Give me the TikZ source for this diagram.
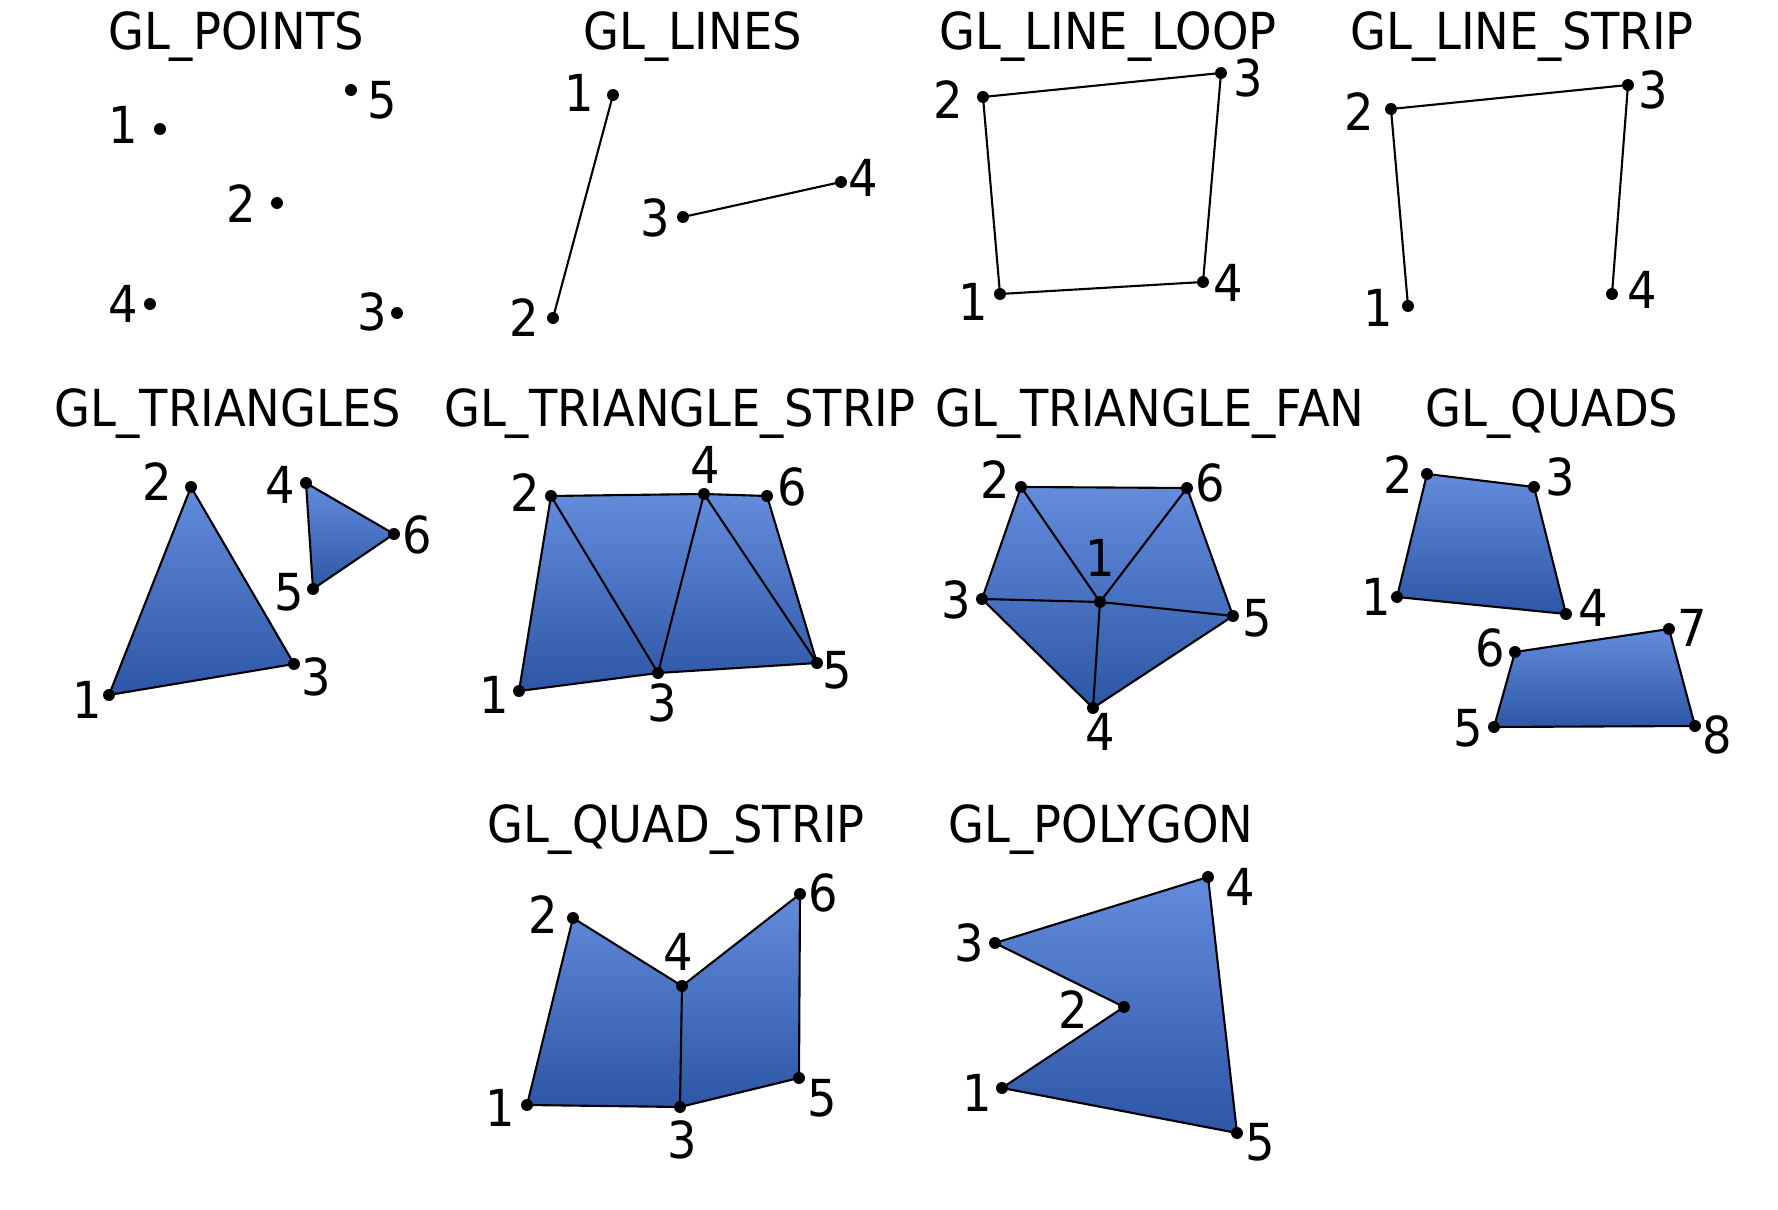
\documentclass[tikz,border=0pt]{standalone}
\usepackage{fontspec}
\setmainfont{DejaVu Sans}[FakeStretch=0.91]
\usepackage{tikz}

\definecolor{facetop}{RGB}{100,140,220}
\definecolor{facemid}{RGB}{52,110,214}
\definecolor{facebot}{RGB}{46,86,166}

\begin{document}
\begin{tikzpicture}[x=0.01cm,y=-0.01cm,
		font=\fontsize{14.5pt}{17pt}\selectfont,
		title/.style={anchor=base,inner sep=0pt},
		lbl/.style={inner sep=0pt},
		edge/.style={line width=0.6pt,line join=round},
		face/.style={edge,top color=facetop,middle color=facemid,bottom color=facebot}]
	\useasboundingbox (0,0) rectangle (1778,1210);
	% GL_POINTS
	\node[title] (tpoints) at (236,50) {GL\_POINTS};
	\coordinate (pt1) at (160,129);
	\coordinate (pt2) at (277,203);
	\coordinate (pt3) at (397,313);
	\coordinate (pt4) at (150,304);
	\coordinate (pt5) at (351,90);
	\node[lbl] (pt1l) at (123,125) {1};
	\node[lbl] (pt2l) at (241,204) {2};
	\node[lbl] (pt3l) at (372,312) {3};
	\node[lbl] (pt4l) at (123,304) {4};
	\node[lbl] (pt5l) at (382,100) {5};
	% GL_LINES
	\node[title] (tlines) at (693,50) {GL\_LINES};
	\coordinate (ln1) at (613,95);
	\coordinate (ln2) at (553,318);
	\coordinate (ln3) at (683,217);
	\coordinate (ln4) at (841,182);
	\draw[edge] (ln1) -- (ln2);
	\draw[edge] (ln3) -- (ln4);
	\node[lbl] (ln1l) at (579,93) {1};
	\node[lbl] (ln2l) at (524,318) {2};
	\node[lbl] (ln3l) at (655,218) {3};
	\node[lbl] (ln4l) at (863,178) {4};
	% GL_LINE_LOOP
	\node[title] (tloop) at (1108,50) {GL\_LINE\_LOOP};
	\coordinate (lo1) at (1000,294);
	\coordinate (lo2) at (983,97);
	\coordinate (lo3) at (1221,73);
	\coordinate (lo4) at (1203,282);
	\draw[edge] (lo1) -- (lo2) -- (lo3) -- (lo4) -- cycle;
	\node[lbl] (lo1l) at (973,302) {1};
	\node[lbl] (lo2l) at (948,100) {2};
	\node[lbl] (lo3l) at (1248,78) {3};
	\node[lbl] (lo4l) at (1228,283) {4};
	% GL_LINE_STRIP
	\node[title] (tlstrip) at (1522,50) {GL\_LINE\_STRIP};
	\coordinate (ls1) at (1408,306);
	\coordinate (ls2) at (1391,109);
	\coordinate (ls3) at (1628,85);
	\coordinate (ls4) at (1612,294);
	\draw[edge] (ls1) -- (ls2) -- (ls3) -- (ls4);
	\node[lbl] (ls1l) at (1378,308) {1};
	\node[lbl] (ls2l) at (1359,112) {2};
	\node[lbl] (ls3l) at (1653,90) {3};
	\node[lbl] (ls4l) at (1642,290) {4};
	% GL_TRIANGLES
	\node[title] (ttri) at (228,427) {GL\_TRIANGLES};
	\coordinate (tr1) at (109,695);
	\coordinate (tr2) at (191,487);
	\coordinate (tr3) at (294,664);
	\coordinate (tr4) at (306,483);
	\coordinate (tr5) at (313,589);
	\coordinate (tr6) at (394,534);
	\draw[face] (tr1) -- (tr2) -- (tr3) -- cycle;
	\draw[face] (tr4) -- (tr5) -- (tr6) -- cycle;
	\node[lbl] (tr1l) at (87,700) {1};
	\node[lbl] (tr2l) at (157,482) {2};
	\node[lbl] (tr3l) at (316,677) {3};
	\node[lbl] (tr4l) at (280,485) {4};
	\node[lbl] (tr5l) at (289,592) {5};
	\node[lbl] (tr6l) at (417,535) {6};
	% GL_TRIANGLE_STRIP
	\node[title] (ttstrip) at (680,427) {GL\_TRIANGLE\_STRIP};
	\coordinate (ts1) at (519,691);
	\coordinate (ts2) at (551,496);
	\coordinate (ts3) at (658,673);
	\coordinate (ts4) at (704,494);
	\coordinate (ts5) at (817,663);
	\coordinate (ts6) at (767,496);
	\draw[face] (ts1) -- (ts2) -- (ts4) -- (ts6) -- (ts5) -- (ts3) -- cycle;
	\draw[edge] (ts2) -- (ts3) -- (ts4) -- (ts5);
	\node[lbl] (ts1l) at (494,695) {1};
	\node[lbl] (ts2l) at (525,493) {2};
	\node[lbl] (ts3l) at (662,703) {3};
	\node[lbl] (ts4l) at (705,465) {4};
	\node[lbl] (ts5l) at (837,670) {5};
	\node[lbl] (ts6l) at (792,487) {6};
	% GL_TRIANGLE_FAN
	\node[title] (tfan) at (1150,427) {GL\_TRIANGLE\_FAN};
	\coordinate (tf1) at (1100,602);
	\coordinate (tf2) at (1021,487);
	\coordinate (tf3) at (982,599);
	\coordinate (tf4) at (1093,708);
	\coordinate (tf5) at (1233,616);
	\coordinate (tf6) at (1187,488);
	\draw[face] (tf2) -- (tf6) -- (tf5) -- (tf4) -- (tf3) -- cycle;
	\foreach \q in {tf2,tf3,tf4,tf5,tf6}
		\draw[edge] (tf1) -- (\q);
	\node[lbl] (tf1l) at (1100,558) {1};
	\node[lbl] (tf2l) at (995,480) {2};
	\node[lbl] (tf3l) at (956,600) {3};
	\node[lbl] (tf4l) at (1100,732) {4};
	\node[lbl] (tf5l) at (1257,618) {5};
	\node[lbl] (tf6l) at (1210,483) {6};
	% GL_QUADS
	\node[title] (tquads) at (1552,427) {GL\_QUADS};
	\coordinate (qd1) at (1397,597);
	\coordinate (qd2) at (1427,474);
	\coordinate (qd3) at (1534,487);
	\coordinate (qd4) at (1566,614);
	\coordinate (qd5) at (1494,727);
	\coordinate (qd6) at (1515,652);
	\coordinate (qd7) at (1669,629);
	\coordinate (qd8) at (1695,726);
	\draw[face] (qd1) -- (qd2) -- (qd3) -- (qd4) -- cycle;
	\draw[face] (qd5) -- (qd6) -- (qd7) -- (qd8) -- cycle;
	\node[lbl] (qd1l) at (1376,597) {1};
	\node[lbl] (qd2l) at (1398,475) {2};
	\node[lbl] (qd3l) at (1560,477) {3};
	\node[lbl] (qd4l) at (1593,608) {4};
	\node[lbl] (qd5l) at (1468,728) {5};
	\node[lbl] (qd6l) at (1490,648) {6};
	\node[lbl] (qd7l) at (1692,628) {7};
	\node[lbl] (qd8l) at (1717,735) {8};
	% GL_QUAD_STRIP
	\node[title] (tqstrip) at (676,843) {GL\_QUAD\_STRIP};
	\coordinate (qs1) at (527,1105);
	\coordinate (qs2) at (573,918);
	\coordinate (qs3) at (680,1107);
	\coordinate (qs4) at (682,986);
	\coordinate (qs5) at (799,1078);
	\coordinate (qs6) at (800,894);
	\draw[face] (qs1) -- (qs2) -- (qs4) -- (qs6) -- (qs5) -- (qs3) -- cycle;
	\draw[edge] (qs3) -- (qs4);
	\node[lbl] (qs1l) at (500,1108) {1};
	\node[lbl] (qs2l) at (543,915) {2};
	\node[lbl] (qs3l) at (682,1140) {3};
	\node[lbl] (qs4l) at (678,952) {4};
	\node[lbl] (qs5l) at (822,1098) {5};
	\node[lbl] (qs6l) at (823,893) {6};
	% GL_POLYGON
	\node[title] (tpoly) at (1101,843) {GL\_POLYGON};
	\coordinate (pg1) at (1002,1088);
	\coordinate (pg2) at (1124,1007);
	\coordinate (pg3) at (995,943);
	\coordinate (pg4) at (1208,877);
	\coordinate (pg5) at (1237,1133);
	\draw[face] (pg1) -- (pg2) -- (pg3) -- (pg4) -- (pg5) -- cycle;
	\node[lbl] (pg1l) at (977,1093) {1};
	\node[lbl] (pg2l) at (1073,1010) {2};
	\node[lbl] (pg3l) at (969,943) {3};
	\node[lbl] (pg4l) at (1240,887) {4};
	\node[lbl] (pg5l) at (1260,1142) {5};
	% vertices
	\foreach \p in {pt1,pt2,pt3,pt4,pt5,ln1,ln2,ln3,ln4,lo1,lo2,lo3,lo4,ls1,ls2,ls3,ls4,
			tr1,tr2,tr3,tr4,tr5,tr6,ts1,ts2,ts3,ts4,ts5,ts6,tf1,tf2,tf3,tf4,tf5,tf6,
			qd1,qd2,qd3,qd4,qd5,qd6,qd7,qd8,qs1,qs2,qs3,qs4,qs5,qs6,pg1,pg2,pg3,pg4,pg5}
		\fill (\p) circle (1.7pt);
\end{tikzpicture}
\end{document}
